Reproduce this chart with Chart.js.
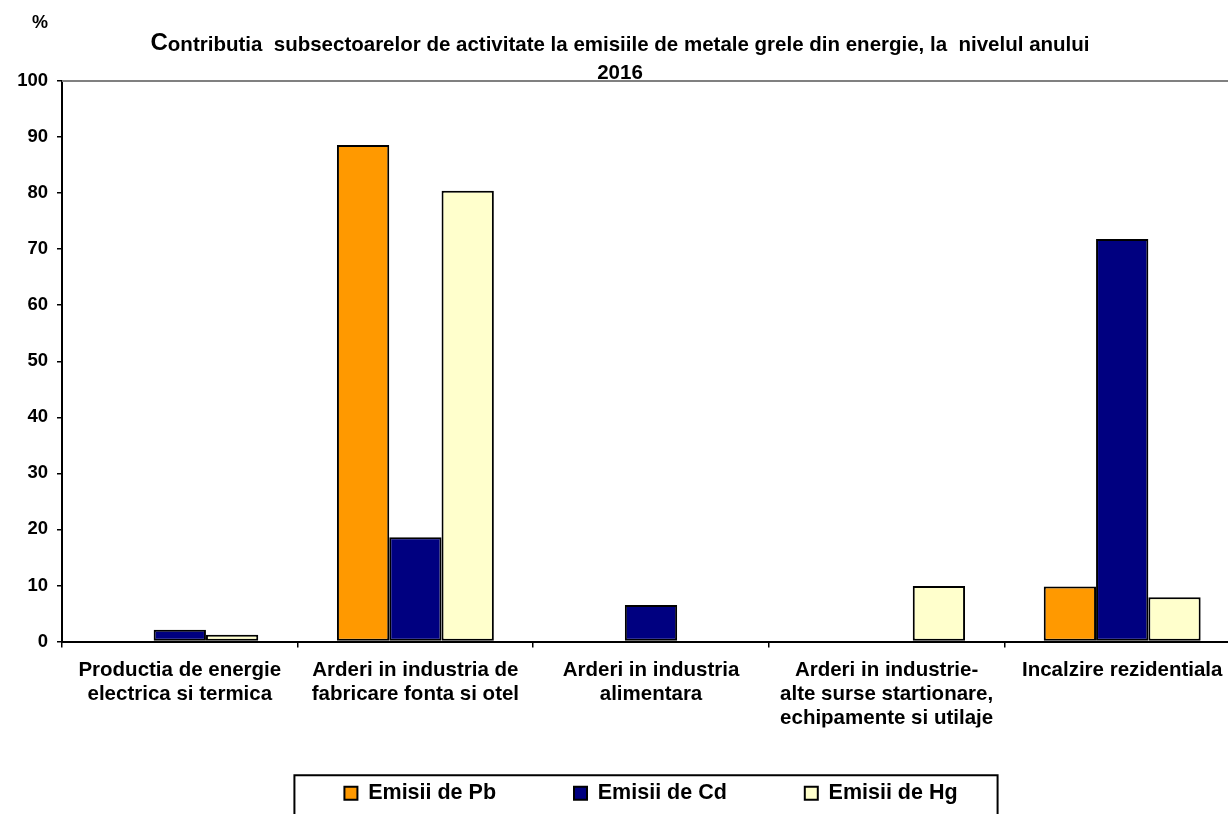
<!DOCTYPE html>
<html>
<head>
<meta charset="utf-8">
<script src="https://cdn.jsdelivr.net/npm/chart.js@4"></script>
<style>
  body { margin: 0; background: #fff; overflow: hidden; }
  #wrap { width: 1228px; height: 814px; overflow: hidden; }
</style>
</head>
<body>
<div id="wrap"><canvas id="barChart" width="1250" height="837"></canvas></div>
<script>
const categories = [
  ["Productia de energie", "electrica si termica"],
  ["Arderi in industria de", "fabricare fonta si otel"],
  ["Arderi in industria", "alimentara"],
  ["Arderi in industrie-", "alte surse startionare,", "echipamente si utilaje"],
  ["Incalzire rezidentiala"]
];
const pbValues = [0, 88.6, 0, 0, 9.8];
const cdValues = [2.1, 18.6, 6.5, 0, 71.8];
const hgValues = [1.2, 80.4, 0, 9.9, 7.9];
const yTicks = [0, 10, 20, 30, 40, 50, 60, 70, 80, 90, 100];

const FONT = "Arial, 'Liberation Sans', sans-serif";

// title with the bigger first letter, the "%" unit, plot border and legend frame
const decorations = {
  id: "decorations",
  afterLayout(chart) {
    const lg = chart.legend;
    lg.left += 31;
    lg.right += 31;
    lg.top -= 23;
    lg.bottom -= 23;
  },
  afterDraw(chart) {
    const ctx = chart.ctx;
    const area = chart.chartArea;
    ctx.save();
    ctx.fillStyle = "#000";
    ctx.textBaseline = "middle";

    const cx = 620;
    ctx.font = "bold 24px " + FONT;
    const wC = ctx.measureText("C").width;
    const rest = "ontributia  subsectoarelor de activitate la emisiile de metale grele din energie, la  nivelul anului";
    ctx.font = "bold 20.5px " + FONT;
    const wRest = ctx.measureText(rest).width;
    const x = cx - (wC + wRest) / 2;
    ctx.textAlign = "left";
    ctx.font = "bold 24px " + FONT;
    ctx.fillText("C", x, 43);
    ctx.font = "bold 20.5px " + FONT;
    ctx.fillText(rest, x + wC, 45);
    ctx.textAlign = "center";
    ctx.fillText("2016", cx, 73);

    ctx.font = "bold 18px " + FONT;
    ctx.fillText("%", 40, 23);

    // plot area top border
    ctx.strokeStyle = "#808080";
    ctx.lineWidth = 2;
    ctx.beginPath();
    ctx.moveTo(area.left, area.top);
    ctx.lineTo(area.right, area.top);
    ctx.stroke();

    // legend frame
    const lg = chart.legend;
    const pad = lg.options.labels.padding;
    const fs = lg.options.labels.font.size;
    const rowW = lg.lineWidths[0] - pad;
    const mid = (lg.left + lg.right) / 2;
    const textMid = lg.top + pad + fs / 2;
    ctx.strokeStyle = "#000";
    ctx.lineWidth = 2;
    ctx.strokeRect(mid - rowW / 2 - 50, textMid - 18, rowW + 90, 60);
    ctx.restore();
  }
};

const barCtx = document.getElementById("barChart");
new Chart(barCtx, {
  type: "bar",
  data: {
    labels: categories,
    datasets: [
      { label: "Emisii de Pb", data: pbValues, backgroundColor: "#FF9900" },
      { label: "Emisii de Cd", data: cdValues, backgroundColor: "#000080" },
      { label: "Emisii de Hg", data: hgValues, backgroundColor: "#FFFFCC" }
    ]
  },
  options: {
    responsive: false,
    animation: false,
    layout: { padding: { top: 81, right: 10, left: 0, bottom: 0 } },
    datasets: {
      bar: {
        borderColor: "#000",
        borderWidth: 2,
        borderSkipped: false,
        categoryPercentage: 0.666,
        barPercentage: 1
      }
    },
    plugins: {
      title: { display: false },
      tooltip: { enabled: false },
      legend: {
        position: "bottom",
        labels: {
          color: "#000",
          boxWidth: 13,
          boxHeight: 13,
          padding: 78,
          font: { family: FONT, size: 21.5, weight: "bold" }
        }
      }
    },
    scales: {
      x: {
        afterFit(scale) { scale.height = 86; },
        grid: { drawOnChartArea: false, color: "#000", tickLength: 6, lineWidth: 1.5 },
        border: { color: "#000", width: 2 },
        ticks: {
          color: "#000",
          padding: 11,
          maxRotation: 0,
          autoSkip: false,
          font: { family: FONT, size: 20.5, weight: "bold", lineHeight: 1.17 }
        }
      },
      y: {
        min: 0,
        max: 100,
        afterFit(scale) { scale.width = 62; },
        afterBuildTicks(scale) { scale.ticks = yTicks.map(v => ({ value: v })); },
        grid: { drawOnChartArea: false, color: "#000", tickLength: 5, lineWidth: 1.5 },
        border: { color: "#000", width: 2 },
        ticks: {
          color: "#000",
          padding: 9,
          font: { family: FONT, size: 18.5, weight: "bold" }
        }
      }
    }
  },
  plugins: [decorations]
});
</script>
</body>
</html>
